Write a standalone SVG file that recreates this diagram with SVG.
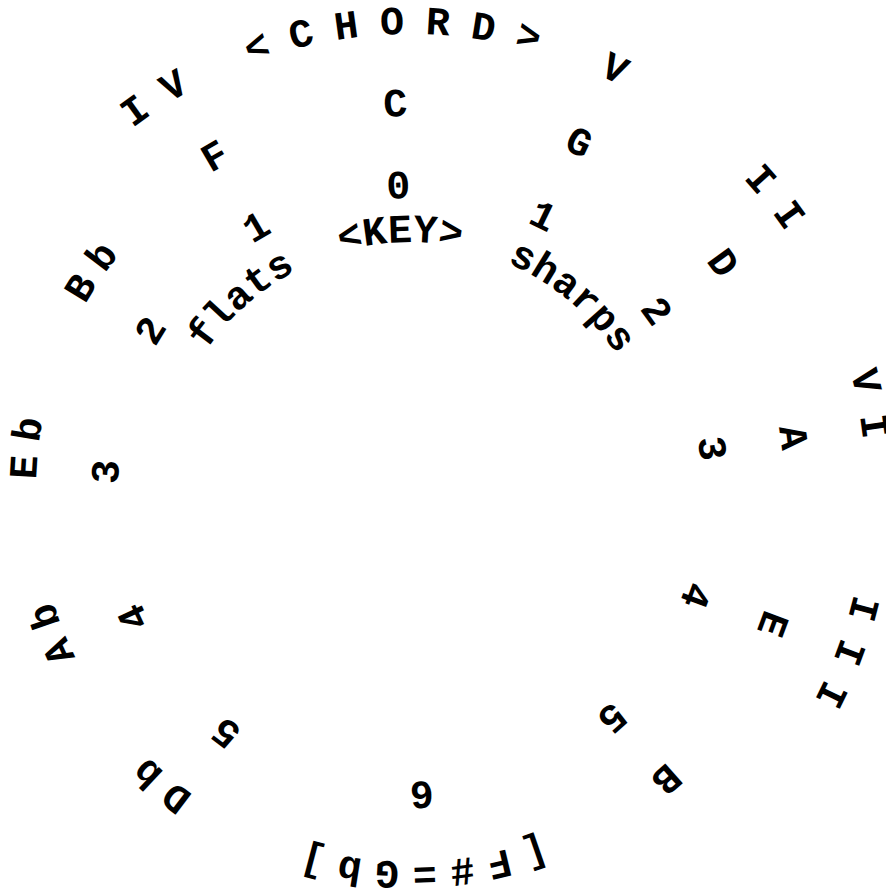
<svg xmlns="http://www.w3.org/2000/svg" width="886" height="890" viewBox="0 0 886 890">
<style>
text{font-family:"Liberation Mono","Courier New",monospace;font-weight:bold;font-size:40px;text-anchor:middle;fill:#000}
</style>
<rect width="886" height="890" fill="#fff"/>
<g id="connectors"/>
<g id="chords">
<g id="chord-IV"><text transform="rotate(-35.95 410 490)" x="410" y="34">I</text><text transform="rotate(-30.325 410 490)" x="410" y="34">V</text></g>
<g id="chord-title"><text transform="rotate(-19.075 410 490)" x="410" y="34">&lt;</text><text transform="rotate(-13.45 410 490)" x="410" y="34">C</text><text transform="rotate(-7.825 410 490)" x="410" y="34">H</text><text transform="rotate(-2.2 410 490)" x="410" y="34">O</text><text transform="rotate(3.425 410 490)" x="410" y="34">R</text><text transform="rotate(9.05 410 490)" x="410" y="34">D</text><text transform="rotate(14.675 410 490)" x="410" y="34">&gt;</text></g>
<g id="chord-V"><text transform="rotate(25.925 410 490)" x="410" y="34">V</text></g>
<g id="chord-II"><text transform="rotate(48.425 410 490)" x="410" y="34">I</text><text transform="rotate(54.05 410 490)" x="410" y="34">I</text></g>
<g id="chord-VI"><text transform="rotate(76.55 410 490)" x="410" y="34">V</text><text transform="rotate(82.175 410 490)" x="410" y="34">I</text></g>
<g id="chord-III"><text transform="rotate(104.675 410 490)" x="410" y="34">I</text><text transform="rotate(110.3 410 490)" x="410" y="34">I</text><text transform="rotate(115.925 410 490)" x="410" y="34">I</text></g>
</g>
<g id="keys">
<g id="key-C"><text transform="rotate(-2.2 410 490)" x="410" y="116">C</text></g>
<g id="key-G"><text transform="rotate(25.925 410 490)" x="410" y="116">G</text></g>
<g id="key-D"><text transform="rotate(54.05 410 490)" x="410" y="116">D</text></g>
<g id="key-A"><text transform="rotate(82.175 410 490)" x="410" y="116">A</text></g>
<g id="key-E"><text transform="rotate(110.3 410 490)" x="410" y="116">E</text></g>
<g id="key-B"><text transform="rotate(138.425 410 490)" x="410" y="116">B</text></g>
<g id="key-FsGb"><text transform="rotate(160.925 410 490)" x="410" y="118">[</text><text transform="rotate(166.55 410 490)" x="410" y="118">F</text><text transform="rotate(172.175 410 490)" x="410" y="118">#</text><text transform="rotate(177.8 410 490)" x="410" y="118">=</text><text transform="rotate(183.425 410 490)" x="410" y="118">G</text><text transform="rotate(189.05 410 490)" x="410" y="118">b</text><text transform="rotate(194.675 410 490)" x="410" y="118">]</text></g>
<g id="key-Db"><text transform="rotate(-142.825 410 490)" x="410" y="116">D</text><text transform="rotate(-137.2 410 490)" x="410" y="116">b</text></g>
<g id="key-Ab"><text transform="rotate(-114.7 410 490)" x="410" y="116">A</text><text transform="rotate(-109.075 410 490)" x="410" y="116">b</text></g>
<g id="key-Eb"><text transform="rotate(-86.575 410 490)" x="410" y="116">E</text><text transform="rotate(-80.95 410 490)" x="410" y="116">b</text></g>
<g id="key-Bb"><text transform="rotate(-58.45 410 490)" x="410" y="116">B</text><text transform="rotate(-52.825 410 490)" x="410" y="116">b</text></g>
<g id="key-F"><text transform="rotate(-30.325 410 490)" x="410" y="116">F</text></g>
</g>
<g id="counts">
<g id="n0"><text transform="rotate(-2.2 410 490)" x="410" y="198">0</text></g>
<g id="n1s"><text transform="rotate(25.925 410 490)" x="410" y="198">1</text></g>
<g id="n2s"><text transform="rotate(54.05 410 490)" x="410" y="198">2</text></g>
<g id="n3s"><text transform="rotate(82.175 410 490)" x="410" y="198">3</text></g>
<g id="n4s"><text transform="rotate(110.3 410 490)" x="410" y="198">4</text></g>
<g id="n5s"><text transform="rotate(138.425 410 490)" x="410" y="198">5</text></g>
<g id="n6"><text transform="rotate(177.8 410 490)" x="410" y="198">6</text></g>
<g id="n5f"><text transform="rotate(-142.825 410 490)" x="410" y="198">5</text></g>
<g id="n4f"><text transform="rotate(-114.7 410 490)" x="410" y="198">4</text></g>
<g id="n3f"><text transform="rotate(-86.575 410 490)" x="410" y="198">3</text></g>
<g id="n2f"><text transform="rotate(-58.45 410 490)" x="410" y="198">2</text></g>
<g id="n1f"><text transform="rotate(-30.325 410 490)" x="410" y="198">1</text></g>
</g>
<g id="inner">
<g id="key-title"><text transform="rotate(-13.45 410 490)" x="410" y="242">&lt;</text><text transform="rotate(-7.825 410 490)" x="410" y="242">K</text><text transform="rotate(-2.2 410 490)" x="410" y="242">E</text><text transform="rotate(3.425 410 490)" x="410" y="242">Y</text><text transform="rotate(9.05 410 490)" x="410" y="242">&gt;</text></g>
<g id="flats"><text transform="rotate(-52.825 410 490)" x="410" y="243">f</text><text transform="rotate(-47.2 410 490)" x="410" y="243">l</text><text transform="rotate(-41.575 410 490)" x="410" y="243">a</text><text transform="rotate(-35.95 410 490)" x="410" y="243">t</text><text transform="rotate(-30.325 410 490)" x="410" y="243">s</text></g>
<g id="sharps"><text transform="rotate(25.925 410 490)" x="410" y="243">s</text><text transform="rotate(31.55 410 490)" x="410" y="243">h</text><text transform="rotate(37.175 410 490)" x="410" y="243">a</text><text transform="rotate(42.8 410 490)" x="410" y="243">r</text><text transform="rotate(48.425 410 490)" x="410" y="243">p</text><text transform="rotate(54.05 410 490)" x="410" y="243">s</text></g>
</g>
</svg>
